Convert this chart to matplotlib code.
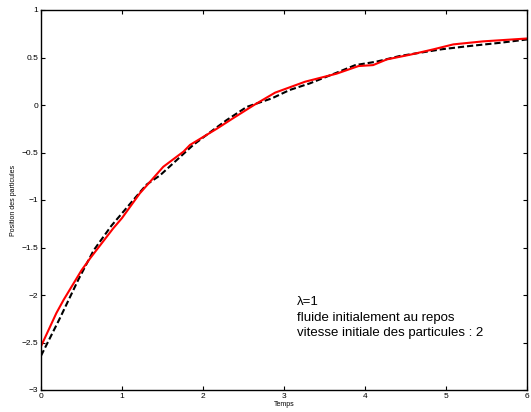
import matplotlib
matplotlib.use("Agg")
import matplotlib.pyplot as plt

# Red solid curve
t_red = [0.00, 0.19, 0.28, 0.50, 0.61, 0.89, 1.00, 1.22, 1.51, 1.76, 1.84, 2.17, 2.37,
         2.63, 2.89, 3.26, 3.65, 3.92, 4.10, 4.27, 4.56, 4.84, 5.09, 5.46, 6.00]
pos_red = [-2.54, -2.19, -2.05, -1.74, -1.61, -1.30, -1.19, -0.93, -0.65, -0.49, -0.42, -0.25, -0.14,
           0.00, 0.13, 0.245, 0.33, 0.41, 0.42, 0.48, 0.53, 0.585, 0.638, 0.67, 0.70]

# Black dashed curve
t_black = [0.00, 0.23, 0.46, 0.65, 0.87, 1.14, 1.30, 1.47, 1.675, 1.88, 2.13, 2.29,
           2.54, 2.85, 3.07, 3.32, 3.65, 3.88, 4.14, 4.43, 4.95, 5.26, 5.67, 6.00]
pos_black = [-2.64, -2.25, -1.84, -1.53, -1.27, -1.00, -0.84, -0.74, -0.58, -0.42, -0.26, -0.16,
             -0.02, 0.07, 0.158, 0.228, 0.34, 0.42, 0.456, 0.516, 0.587, 0.618, 0.655, 0.69]

xticks = [0, 1, 2, 3, 4, 5, 6]
yticks = [-3, -2.5, -2, -1.5, -1, -0.5, 0, 0.5, 1]
yticklabels = ["\u22123", "\u22122.5", "\u22122", "\u22121.5", "\u22121", "\u22120.5", "0", "0.5", "1"]

annot_lines = ["\u03bb=1", "fluide initialement au repos", "vitesse initiale des particules : 2"]

plt.rcParams['font.family'] = ['Liberation Sans', 'DejaVu Sans']

fig = plt.figure(figsize=(5.31, 4.12), dpi=100)
ax = fig.add_axes([41 / 531, 22 / 412, 486 / 531, 380 / 412])

ax.plot(t_black, pos_black, color='black', lw=1.5, linestyle=(0, (3, 1.4)))
ax.plot(t_red, pos_red, color='red', lw=1.5)

ax.set_xlim(0, 6)
ax.set_ylim(-3, 1)
ax.set_xticks(xticks)
ax.set_xticklabels([str(v) for v in xticks])
ax.set_yticks(yticks)
ax.set_yticklabels(yticklabels)
ax.tick_params(direction='in', top=True, right=True, length=3, width=0.8,
               labelsize=6, pad=2, colors='black')
for s in ax.spines.values():
    s.set_linewidth(1.0)

ax.set_xlabel("Temps", fontsize=5, labelpad=1)
ax.set_ylabel("Position des particules", fontsize=5, labelpad=3)

ys = [-2.07, -2.24, -2.40]
for txt, y in zip(annot_lines, ys):
    ax.text(3.16, y, txt, fontsize=9.5, va='center', ha='left')

fig.savefig("out.png", dpi=100)
